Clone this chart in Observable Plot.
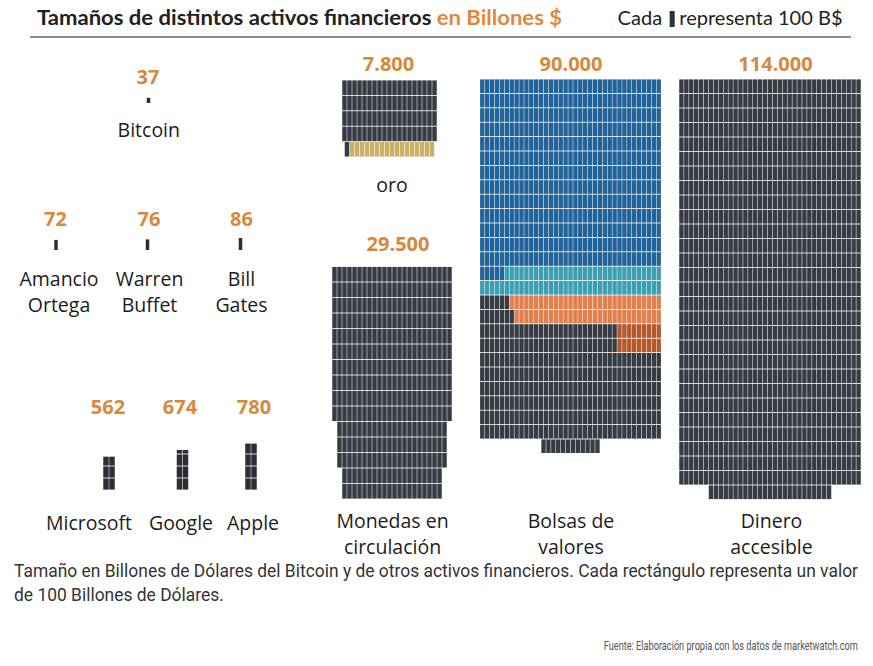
<!DOCTYPE html>
<html>
<head>
<meta charset="utf-8">
<script src="https://cdn.jsdelivr.net/npm/d3@7"></script>
<script src="https://cdn.jsdelivr.net/npm/@observablehq/plot@0.6"></script>
<style>
html,body{margin:0;padding:0;background:#fff;}
#root{position:relative;width:873px;height:666px;overflow:hidden;background:#fff;}
.title{position:absolute;left:37px;top:4px;font-family:Lato,"Open Sans",sans-serif;font-weight:700;font-size:21px;line-height:26px;color:#222;white-space:nowrap;transform-origin:left top;}
.title .hl{color:#e0893a;}
.legend{position:absolute;right:30px;top:4px;font-family:Lato,"Open Sans",sans-serif;font-size:20px;line-height:26px;color:#222;white-space:nowrap;transform-origin:right top;}
.legend .unit{display:inline-block;width:5px;height:16px;background:#2c3038;vertical-align:-2px;margin:0 5px 0 2px;}
.rule{position:absolute;left:30px;width:821px;top:36px;height:2px;background:#8d8d8d;}
#chart{position:absolute;left:0;top:40px;}
.caption{position:absolute;left:14px;top:559px;font-family:Roboto,sans-serif;font-size:18px;line-height:24px;color:#333;white-space:nowrap;transform-origin:left top;}
.source{position:absolute;right:15px;top:637px;font-family:Roboto,sans-serif;font-size:13.5px;line-height:16px;color:#555;white-space:nowrap;transform-origin:right top;}
</style>
</head>
<body>
<div id="root">
  <div class="title" id="title">Tamaños de distintos activos financieros <span class="hl">en Billones $</span></div>
  <div class="legend" id="legend">Cada <span class="unit"></span>representa 100 B$</div>
  <div class="rule"></div>
  <div id="chart"></div>
  <div class="caption" id="caption"><span id="cap1">Tamaño en Billones de Dólares del Bitcoin y de otros activos financieros. Cada rectángulo representa un valor</span><br><span>de 100 Billones de Dólares.</span></div>
  <div class="source" id="source">Fuente: Elaboración propia con los datos de marketwatch.com</div>
</div>
<script>
// ---------- DATA ----------
const names = ["Bitcoin", "Amancio\nOrtega", "Warren\nBuffet", "Bill\nGates",
  "Microsoft", "Google", "Apple", "oro", "Monedas en\ncirculación", "Bolsas de\nvalores", "Dinero\naccesible"];
const values = [37, 72, 76, 86, 562, 674, 780, 7800, 29500, 90000, 114000];

// cell runs (row by row, left to right) of the large blocks
const oroColors = ["dark", "gold"];
const oroCells = [77, 17];
const monedasColors = ["dark"];
const monedasCells = [346];
const bolsasColors = ["blue", "teal", "dark", "orange", "dark", "orange", "dark", "brown", "dark", "brown", "dark"];
const bolsasCells = [486, 69, 6, 31, 7, 30, 28, 9, 28, 9, 234];
const dineroColors = ["dark"];
const dineroCells = [1061];

const colorKeys = ["dark", "blue", "teal", "orange", "brown", "gold", "glyph"];
const colorHex = ["#363b44", "#22639a", "#3d9fb2", "#e47f4f", "#b5592c", "#c8b26b", "#2a2e35"];

// ---------- LAYOUT (page pixel coordinates) ----------
const single = {cols: 1, cw: 3.5, ch: 14};
const pair = {cols: 2, cw: 6, ch: 12};
const layout = [
  {cx: 148.5, numCx: 147.5, numBase: 83, glyphBase: 103, labelCx: 148.3, labelBase: 136, glyph: single},
  {cx: 56, numCx: 55, numBase: 225, glyphBase: 250, labelCx: 58.5, labelBase: 285, glyph: single},
  {cx: 147.5, numCx: 148.5, numBase: 225, glyphBase: 250, labelCx: 149, labelBase: 285, glyph: single},
  {cx: 240.5, numCx: 241, numBase: 225, glyphBase: 250, labelCx: 241, labelBase: 285, glyph: single},
  {cx: 109, numCx: 107.5, numBase: 413, glyphBase: 490, labelCx: 88.5, labelBase: 529, glyph: pair},
  {cx: 182.5, numCx: 179.5, numBase: 413, glyphBase: 490, labelCx: 180.5, labelBase: 529, glyph: pair},
  {cx: 251, numCx: 253.5, numBase: 413, glyphBase: 490, labelCx: 252.5, labelBase: 529, glyph: pair},
  {cx: 389.5, numCx: 388, numBase: 70, labelCx: 391.5, labelBase: 191.5,
    block: {top: 80, cw: 5, ch: 15.4, tiers: [[19, 4]], colors: oroColors, cells: oroCells}},
  {cx: 392, numCx: 397.5, numBase: 250.5, labelCx: 392, labelBase: 527,
    block: {top: 266.5, cw: 5, ch: 15.5, tiers: [[24, 10], [22, 3], [20, 2]], colors: monedasColors, cells: monedasCells}},
  {cx: 570.5, numCx: 570.5, numBase: 70.5, labelCx: 570.5, labelBase: 527,
    block: {top: 79, cw: 4.9, ch: 14.4, tiers: [[37, 25]], colors: bolsasColors, cells: bolsasCells}},
  {cx: 770, numCx: 775, numBase: 70.5, labelCx: 771, labelBase: 527,
    block: {top: 79, cw: 4.92, ch: 14.5, tiers: [[37, 28]], colors: dineroColors, cells: dineroCells}}
];

// ---------- build cells ----------
function glyphCells(v, L) {
  const g = L.glyph, out = [];
  const per = (v / 100) / g.cols;
  const x0 = L.cx - g.cols * g.cw / 2;
  for (let c = 0; c < g.cols; c++) {
    let rem = per, y = L.glyphBase;
    while (rem > 1e-9) {
      const h = Math.min(1, rem);
      out.push({x1: x0 + c * g.cw, x2: x0 + (c + 1) * g.cw, y1: y - h * g.ch, y2: y, fill: "glyph", small: g.cols === 1});
      y -= h * g.ch; rem -= h;
    }
  }
  return out;
}
function blockCells(L) {
  const B = L.block, out = [];
  const seq = B.colors.flatMap((c, i) => Array(B.cells[i]).fill(c));
  let idx = 0, y = B.top, lastCols = B.tiers[0][0];
  for (const [cols, rows] of B.tiers) {
    lastCols = cols;
    for (let r = 0; r < rows && idx < seq.length; r++) {
      const n = Math.min(cols, seq.length - idx);
      const x0 = L.cx - n * B.cw / 2;
      for (let c = 0; c < n; c++) out.push({x1: x0 + c * B.cw, x2: x0 + (c + 1) * B.cw, y1: y, y2: y + B.ch, fill: seq[idx++]});
      y += B.ch;
    }
  }
  while (idx < seq.length) {
    const n = Math.min(lastCols, seq.length - idx);
    const x0 = L.cx - n * B.cw / 2;
    for (let c = 0; c < n; c++) out.push({x1: x0 + c * B.cw, x2: x0 + (c + 1) * B.cw, y1: y, y2: y + B.ch, fill: seq[idx++]});
    y += B.ch;
  }
  return out;
}

const cells = [];
values.forEach((v, i) => {
  const L = layout[i];
  if (L.block) cells.push(...blockCells(L)); else cells.push(...glyphCells(v, L));
});
const bigCells = cells.filter(d => !d.small);
const tinyCells = cells.filter(d => d.small);

const fmt = d3.formatLocale({decimal: ",", thousands: ".", grouping: [3], currency: ["", "$"]}).format(",");
const NUM_FS = 20, LAB_FS = 19.5, LH = 1.36;
const numbers = values.map((v, i) => ({x: layout[i].numCx, y: layout[i].numBase - 0.71 * NUM_FS, text: fmt(v)}));
const labels = names.map((n, i) => ({x: layout[i].labelCx, y: layout[i].labelBase - 0.71 * LH * LAB_FS, text: n}));

const chart = Plot.plot({
  width: 873, height: 505,
  margin: 0,
  style: {background: "transparent", overflow: "visible"},
  x: {domain: [0, 873], range: [0, 873], axis: null},
  y: {domain: [40, 545], range: [0, 505], axis: null},
  color: {domain: colorKeys, range: colorHex},
  marks: [
    Plot.rect(bigCells, {x1: "x1", x2: "x2", y1: "y1", y2: "y2", fill: "fill",
      insetTop: 0.4, insetBottom: 0.4, insetLeft: 0.25, insetRight: 0.25}),
    Plot.rect(tinyCells, {x1: "x1", x2: "x2", y1: "y1", y2: "y2", fill: "fill"}),
    Plot.text(numbers, {x: "x", y: "y", text: "text", lineAnchor: "top", fontSize: NUM_FS,
      fontWeight: 700, fill: "#d9873b", fontFamily: "'Open Sans', sans-serif"}),
    Plot.text(labels, {x: "x", y: "y", text: "text", lineAnchor: "top", lineHeight: LH, fontSize: LAB_FS,
      fill: "#1c1c1c", fontFamily: "'Open Sans', sans-serif"})
  ]
});
document.getElementById("chart").appendChild(chart);

// fit text widths to the reference
function fit(el, target) {
  const w = el.getBoundingClientRect().width;
  el.style.transform = `scaleX(${target / w})`;
}
fit(document.getElementById("title"), 525);
fit(document.getElementById("legend"), 225);
const cap = document.getElementById("caption");
const w1 = document.getElementById("cap1").getBoundingClientRect().width;
cap.style.transform = `scaleX(${844 / w1})`;
fit(document.getElementById("source"), 254);
</script>
</body>
</html>
